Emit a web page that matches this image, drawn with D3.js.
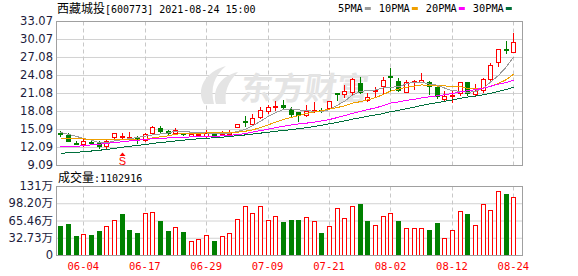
<!DOCTYPE html>
<html>
<head>
<meta charset="utf-8">
<script src="https://cdn.jsdelivr.net/npm/d3@7"></script>
<style>
  body { margin: 0; background: #fff; }
  svg { display: block; }
</style>
</head>
<body>
<div id="chart"></div>
<script>
// trading days shown (2021)
const dates = [
  "06-01","06-02","06-03","06-04","06-07","06-08","06-09","06-10","06-11","06-15",
  "06-16","06-17","06-18","06-21","06-22","06-23","06-24","06-25","06-28","06-29",
  "06-30","07-01","07-02","07-05","07-06","07-07","07-08","07-09","07-12","07-13",
  "07-14","07-15","07-16","07-19","07-20","07-21","07-22","07-23","07-26","07-27",
  "07-28","07-29","07-30","08-02","08-03","08-04","08-05","08-06","08-09","08-10",
  "08-11","08-12","08-13","08-16","08-17","08-18","08-19","08-20","08-23","08-24"
];

const open = [
  14.45,14.15,12.78,12.60,12.95,12.75,12.20,13.72,13.90,13.68,
  13.70,13.30,14.40,15.30,14.80,14.50,14.40,13.95,14.15,13.95,
  14.30,14.30,14.35,15.50,16.40,16.00,17.15,18.00,18.70,19.00,
  18.40,17.85,17.40,18.20,18.30,18.55,21.05,20.90,21.20,22.80,
  19.90,21.40,22.30,23.95,23.10,21.30,22.90,22.95,22.90,22.10,
  20.05,20.50,21.15,22.90,20.95,21.60,23.45,26.30,28.45,27.95
];
const high = [
  14.80,14.40,13.10,13.50,13.20,13.05,13.30,14.40,14.37,14.55,
  13.85,14.40,15.60,15.60,14.90,15.25,14.50,14.40,14.35,14.90,
  14.40,14.75,14.90,15.95,17.25,17.60,18.70,19.15,19.75,19.90,
  18.70,17.95,19.00,19.55,18.50,19.80,21.10,22.35,23.50,23.80,
  21.00,22.10,23.70,25.20,23.60,23.30,23.30,24.45,23.00,22.35,
  21.40,21.40,22.95,22.95,22.50,23.50,26.05,28.45,29.80,31.00
];
const low = [
  13.90,13.05,12.70,12.30,12.60,12.00,12.00,13.40,13.45,13.65,
  12.75,13.10,14.20,14.35,14.30,14.35,14.10,13.85,13.85,13.75,
  14.00,14.05,14.00,15.40,15.60,15.80,17.00,17.70,18.30,18.35,
  17.20,16.50,17.20,17.95,17.90,18.45,19.90,20.40,20.95,21.00,
  19.75,20.40,20.90,21.50,21.40,21.20,21.70,22.90,20.90,20.20,
  19.95,19.65,20.75,20.80,20.75,21.20,23.30,25.65,27.70,27.95
];
const close = [
  14.35,13.10,12.72,13.05,12.90,12.20,13.10,14.37,13.95,13.72,
  13.30,14.20,15.35,14.80,14.50,14.90,14.20,14.25,14.30,14.45,
  14.10,14.40,14.50,15.85,16.25,17.00,18.25,18.70,18.85,18.80,
  17.55,17.45,18.10,18.30,18.20,19.75,20.95,21.40,23.35,21.30,
  20.35,21.50,23.25,23.90,21.50,22.85,23.00,23.25,22.25,20.50,
  20.55,20.70,22.90,21.15,21.40,23.35,25.75,28.40,28.35,29.50
];
// volume in 万 (10k lots)
const volume = [
  55.0,58.9,36.0,39.0,38.0,45.6,54.4,65.8,77.8,47.5,
  41.8,79.7,81.0,64.6,45.6,52.5,43.7,26.6,29.7,37.3,
  26.6,35.4,41.8,67.7,92.4,79.0,92.4,65.8,73.4,62.7,
  66.5,66.5,71.5,63.9,41.8,54.4,88.6,69.6,92.4,96.8,
  64.6,56.3,73.4,79.7,64.6,50.6,50.6,50.6,47.5,60.8,
  31.6,46.8,82.9,77.8,56.3,96.8,84.8,120.9,115.8,110.2916
];

const ma5 = [
  14.50,14.20,13.85,13.50,13.22,12.79,12.79,13.12,13.30,13.47,
  13.69,13.91,14.10,14.27,14.43,14.75,14.75,14.53,14.43,14.42,
  14.26,14.30,14.35,14.66,15.02,15.60,16.37,17.21,17.81,18.32,
  18.43,18.27,18.15,18.04,17.92,18.36,19.06,19.72,20.73,21.35,
  21.47,21.58,21.95,22.06,22.10,22.60,22.90,22.90,22.57,22.37,
  21.91,21.45,21.38,21.16,21.34,21.90,22.91,24.01,25.45,27.07
];
const ma10 = [
  13.45,13.45,13.43,13.42,13.40,13.40,13.38,13.38,13.37,13.35,
  13.24,13.35,13.61,13.79,13.95,14.22,14.33,14.32,14.35,14.43,
  14.51,14.53,14.44,14.55,14.72,14.93,15.34,15.78,16.24,16.67,
  17.02,17.32,17.68,17.93,18.12,18.40,18.67,18.94,19.39,19.64,
  19.92,20.32,20.84,21.40,21.73,22.04,22.24,22.43,22.32,22.24,
  22.26,22.18,22.14,21.87,21.86,21.91,22.18,22.70,23.31,24.21
];
const ma20 = [
  12.10,12.15,12.20,12.30,12.45,12.55,12.70,12.82,12.97,13.10,
  13.20,13.37,13.45,13.52,13.60,13.67,13.72,13.77,13.82,13.89,
  13.87,13.94,14.03,14.17,14.33,14.57,14.83,15.05,15.29,15.55,
  15.76,15.92,16.06,16.24,16.42,16.66,17.00,17.30,17.70,18.00,
  18.30,18.60,19.00,19.40,19.60,19.85,20.05,20.25,20.45,20.60,
  20.80,21.00,21.25,21.45,21.65,21.90,22.20,22.55,22.85,23.22
];
const ma30 = [
  11.04,11.12,11.20,11.30,11.42,11.55,11.68,11.85,12.05,12.20,
  12.35,12.50,12.68,12.83,12.97,13.10,13.22,13.35,13.45,13.55,
  13.62,13.72,13.85,13.98,14.10,14.25,14.40,14.55,14.70,14.85,
  14.98,15.13,15.30,15.50,15.70,15.95,16.20,16.42,16.72,16.97,
  17.20,17.43,17.67,17.96,18.19,18.45,18.72,19.00,19.27,19.48,
  19.70,19.93,20.20,20.40,20.57,20.78,21.03,21.35,21.67,22.03
];

const priceTicks = [9.09, 12.09, 15.09, 18.08, 21.08, 24.08, 27.08, 30.07, 33.07];
const volTicks = [0, 32.73, 65.46, 98.20, 130.92];
const dateTicks = ["06-04","06-17","06-29","07-09","07-21","08-02","08-12","08-24"];
const maNames = ["5PMA", "10PMA", "20PMA", "30PMA"];
const signal = { date: "06-11", label: "S" };

const width = 578, height = 276;
const left = 56, right = 522;
const pTop = 21, pBottom = 165;
const vTop = 186, vBottom = 255;

const RED = "#ff0000", GREEN = "#008000";
const maColors = ["#9a9a9a", "#f0a000", "#ff00ff", "#006f3c"];
const mono = "'DejaVu Sans Mono', monospace";
const cjk = "'Noto Sans CJK SC', sans-serif";

const rows = dates.map((d, i) => ({
  date: d, o: open[i], h: high[i], l: low[i], c: close[i], v: volume[i],
  volUp: i === 0 ? close[i] >= open[i] : close[i] >= close[i - 1]
}));

const svg = d3.select("#chart").append("svg")
  .attr("width", width)
  .attr("height", height)
  .style("background", "#fff");

const x = d3.scaleBand().domain(dates).range([56.4, 517.2]);
const cx = d => Math.round(x(d) + x.bandwidth() / 2);
const y = d3.scaleLinear().domain([9.09, 33.07]).range([pBottom, pTop]);
const yv = d3.scaleLinear().domain([0, 130.92]).range([vBottom, vTop]);

// horizontal grid
svg.append("g")
  .attr("transform", `translate(${left},0)`)
  .call(d3.axisLeft(y).tickValues(priceTicks).tickSize(-(right - left)).tickFormat(""))
  .call(g => g.select(".domain").remove())
  .call(g => g.selectAll("line").attr("stroke", "#d2d2d2"));

svg.append("g")
  .attr("transform", `translate(${left},0)`)
  .call(d3.axisLeft(yv).tickValues(volTicks).tickSize(-(right - left)).tickFormat(""))
  .call(g => g.select(".domain").remove())
  .call(g => g.selectAll("line").attr("stroke", "#d2d2d2"));

// vertical dashed grid
[[pTop, pBottom], [vTop, vBottom]].forEach(([t, b]) => {
  svg.append("g").selectAll("line")
    .data(dateTicks)
    .join("line")
    .attr("x1", d => cx(d) + 0.5).attr("x2", d => cx(d) + 0.5)
    .attr("y1", t + 0.5).attr("y2", b + 0.5)
    .attr("stroke", "#c8c8c8")
    .attr("stroke-dasharray", "4,3");
});

// watermark
const wm = svg.append("g").attr("fill", "#e4e4e4");
wm.append("path")
  .attr("d", "M204,104 C196,90 204,72 226,66 C214,76 210,88 214,104 Z M216,104 C212,90 220,76 238,72 C228,82 224,92 226,104 Z");
wm.append("text")
  .attr("x", 240).attr("y", 100)
  .attr("transform", "skewX(-8) translate(13,0)")
  .attr("font-family", cjk)
  .attr("font-weight", "bold")
  .attr("font-size", 32)
  .text("东方财富");

// candles
const candle = svg.append("g").selectAll("g")
  .data(rows)
  .join("g");

candle.append("line")
  .attr("x1", d => cx(d.date) + 0.5).attr("x2", d => cx(d.date) + 0.5)
  .attr("y1", d => Math.round(y(d.h))).attr("y2", d => Math.round(y(d.l)) + 1)
  .attr("stroke", d => d.c >= d.o ? RED : GREEN);

candle.append("rect")
  .each(function (d) {
    const up = d.c >= d.o;
    const t = Math.round(y(Math.max(d.o, d.c)));
    const b = Math.round(y(Math.min(d.o, d.c)));
    const r = d3.select(this);
    if (up) {
      r.attr("x", cx(d.date) - 1.5).attr("width", 4)
        .attr("y", t + 0.5).attr("height", Math.max(b - t, 1))
        .attr("fill", "#fff").attr("stroke", RED);
    } else {
      r.attr("x", cx(d.date) - 2).attr("width", 5)
        .attr("y", t).attr("height", Math.max(b - t, 1) + 1)
        .attr("fill", GREEN);
    }
  });

// moving averages
[ma5, ma10, ma20, ma30].forEach((arr, k) => {
  svg.append("path")
    .datum(arr)
    .attr("fill", "none")
    .attr("stroke", maColors[k])
    .attr("stroke-width", 1)
    .attr("shape-rendering", "crispEdges")
    .attr("d", d3.line().x((v, i) => cx(dates[i]) + 0.5).y(v => y(v)));
});

// buy signal
const sx = cx(signal.date) + 0.5;
svg.append("path")
  .attr("d", `M${sx - 3},156 L${sx + 3},156 L${sx},152.5 Z`)
  .attr("fill", RED);
svg.append("text")
  .attr("x", sx).attr("y", 164.5)
  .attr("text-anchor", "middle")
  .attr("font-family", "'Liberation Sans', sans-serif")
  .attr("font-size", 11)
  .attr("fill", RED)
  .text(signal.label);

// volume bars
svg.append("g").selectAll("rect")
  .data(rows)
  .join("rect")
  .each(function (d) {
    const t = Math.round(yv(d.v));
    const r = d3.select(this);
    if (d.volUp) {
      r.attr("x", cx(d.date) - 1.5).attr("width", 4)
        .attr("y", t + 0.5).attr("height", vBottom - t)
        .attr("fill", "#fff").attr("stroke", RED);
    } else {
      r.attr("x", cx(d.date) - 2).attr("width", 5)
        .attr("y", t).attr("height", vBottom - t + 1)
        .attr("fill", GREEN);
    }
  });

// frames
[[pTop, pBottom], [vTop, vBottom]].forEach(([t, b]) => {
  svg.append("rect")
    .attr("x", left + 0.5).attr("y", t + 0.5)
    .attr("width", right - left).attr("height", b - t)
    .attr("fill", "none").attr("stroke", "#a0a0a0");
});

// axes labels
svg.append("g")
  .attr("transform", `translate(${left},0)`)
  .call(d3.axisLeft(y).tickValues(priceTicks).tickSize(0).tickPadding(3).tickFormat(d3.format(".2f")))
  .call(g => g.select(".domain").remove())
  .call(g => g.selectAll("text")
    .attr("font-family", "'DejaVu Sans', sans-serif")
    .attr("font-size", 11.5)
    .attr("fill", "#1c1c3c"));

svg.append("g")
  .attr("transform", `translate(${left},0)`)
  .call(d3.axisLeft(yv).tickValues(volTicks).tickSize(0).tickPadding(3)
    .tickFormat(d => d === 0 ? "0" : d > 130 ? "131万" : d3.format(".2f")(d) + "万"))
  .call(g => g.select(".domain").remove())
  .call(g => g.selectAll("text")
    .attr("font-family", "'DejaVu Sans', 'Noto Sans CJK SC', sans-serif")
    .attr("font-size", 11.5)
    .attr("fill", "#1c1c3c"));

svg.append("g")
  .attr("transform", `translate(0,${vBottom})`)
  .call(d3.axisBottom(x).tickValues(dateTicks).tickSize(0).tickPadding(8))
  .call(g => g.select(".domain").remove())
  .call(g => g.selectAll("text")
    .attr("font-family", mono)
    .attr("font-size", 10.5)
    .attr("fill", RED));

// titles
const title = svg.append("text").attr("x", 57).attr("y", 13).attr("fill", "#000");
title.append("tspan").attr("font-family", cjk).attr("font-size", 12).text("西藏城投");
title.append("tspan").attr("font-family", mono).attr("font-size", 10).text("[600773] 2021-08-24 15:00");

const vt = svg.append("text").attr("x", 58).attr("y", 182).attr("fill", "#000");
vt.append("tspan").attr("font-family", cjk).attr("font-size", 12).text("成交量");
vt.append("tspan").attr("font-family", mono).attr("font-size", 10).text(":" + d3.format("d")(Math.round(volume[volume.length - 1] * 10000)));

// legend
const legend = svg.append("g");
let lx = 338;
maNames.forEach((name, k) => {
  const t = legend.append("text")
    .attr("x", lx).attr("y", 12)
    .attr("font-family", mono)
    .attr("font-size", 10.3)
    .attr("fill", "#000")
    .text(name);
  lx += t.node().getComputedTextLength() + 2;
  legend.append("rect")
    .attr("x", lx).attr("y", 7)
    .attr("width", 6).attr("height", 3)
    .attr("fill", maColors[k]);
  lx += 14;
});
</script>
</body>
</html>
